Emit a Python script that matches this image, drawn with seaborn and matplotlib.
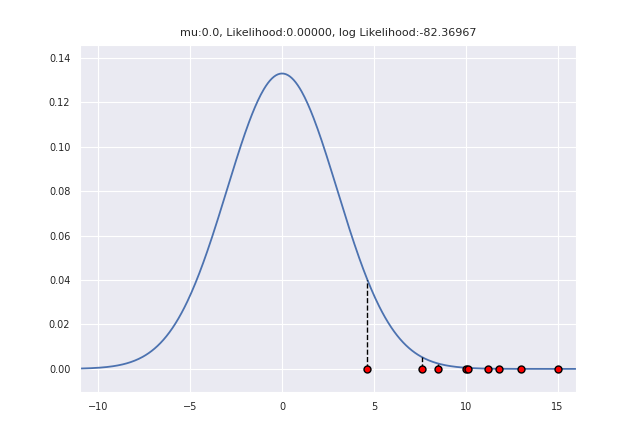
import numpy as np
import matplotlib
matplotlib.use("Agg")
import matplotlib.pyplot as plt
import seaborn as sns

sns.set_style("darkgrid")
plt.rcParams['font.family'] = ['DejaVu Sans']

mu = 0.0
sigma = 3.0
data = [4.65, 7.6, 8.5, 10.0, 10.1, 11.2, 11.8, 13.0, 15.0]
title = "mu:0.0, Likelihood:0.00000, log Likelihood:-82.36967"

xs = np.linspace(-11, 16, 500)
pdf = lambda x: np.exp(-(np.asarray(x) - mu) ** 2 / (2 * sigma ** 2)) / (sigma * np.sqrt(2 * np.pi))

fig, ax = plt.subplots(figsize=(6.4, 4.48), dpi=100)
sns.lineplot(x=xs, y=pdf(xs), ax=ax, color="#4C72B0", linewidth=1.3)
for d in data:
    ax.plot([d, d], [0, pdf(d)], 'k--', linewidth=1)
ax.scatter(data, np.zeros(len(data)), color="red", edgecolor="black", s=25, zorder=5)
ax.set_xlim(-11, 16)
ax.set_ylim(-0.0104, 0.1459)
ax.set_xticks([-10, -5, 0, 5, 10, 15])
ax.tick_params(labelsize=7)
ax.set_title(title, fontsize=8)
fig.subplots_adjust(left=0.125, right=0.9, top=0.9, bottom=0.125)
fig.savefig("out.png")
